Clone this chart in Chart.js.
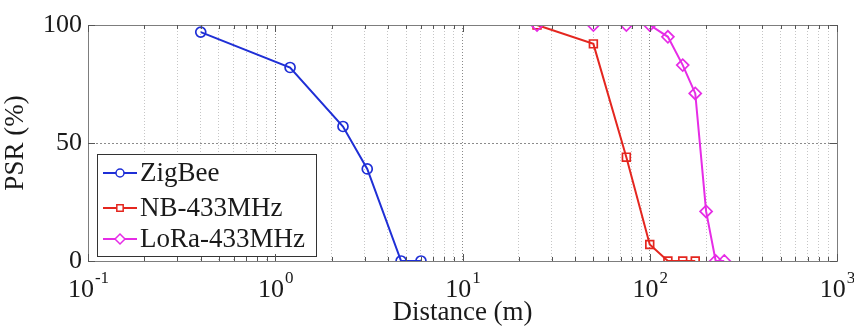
<!DOCTYPE html>
<html>
<head>
<meta charset="utf-8">
<script src="https://cdn.jsdelivr.net/npm/chart.js@4.4.0/dist/chart.umd.min.js"></script>
<style>
html, body { margin: 0; padding: 0; background: #fff; }
#wrap { width: 854px; height: 329px; position: relative; }
</style>
</head>
<body>
<div id="wrap"><canvas id="psr"></canvas></div>
<script>
const seriesNames = ['ZigBee', 'NB-433MHz', 'LoRa-433MHz'];
const zigbeeDist = [0.4, 1.2, 2.3, 3.1, 4.7, 6];
const zigbeePsr = [97, 82, 57, 39, 0, 0];
const nbDist = [25, 50, 75, 100, 125, 150, 175];
const nbPsr = [100, 92, 44, 7, 0, 0, 0];
const loraDist = [25, 50, 75, 100, 125, 150, 175, 200, 225, 250];
const loraPsr = [100, 100, 100, 100, 95, 83, 71, 21, 0, 0];

const decadeExps = [-1, 0, 1, 2, 3];
const minorSteps = [1, 2, 3, 4, 5, 6, 7, 8, 9];
const yTicks = [0, 50, 100];

const blue = '#1f2fd6';
const red = '#e4261f';
const magenta = '#e62ce6';
const serif = "'Liberation Serif', 'Times New Roman', serif";

// all log grid positions 0.1 .. 1000
const xTickValues = [];
decadeExps.forEach(e => {
    minorSteps.forEach(m => {
        const v = m * Math.pow(10, e);
        if (v <= 1000.0001) xTickValues.push(v);
    });
});

function isDecade(v) {
    return Math.abs(Math.log10(v) - Math.round(Math.log10(v))) < 1e-6;
}

function pts(xs, ys) {
    return xs.map((x, i) => ({x: x, y: ys[i]}));
}

function makeSet(label, xs, ys, color, style, radius, order) {
    return {
        label: label,
        data: pts(xs, ys),
        borderColor: color,
        backgroundColor: color,
        borderWidth: 2,
        pointStyle: style,
        pointRadius: radius,
        pointBorderWidth: 1.7,
        pointBorderColor: color,
        pointBackgroundColor: 'rgba(255,255,255,0)',
        tension: 0,
        order: order
    };
}

// horizontal dotted grid (y)
const yGrid = {
    id: 'yGrid',
    beforeDatasetsDraw(chart) {
        const ctx = chart.ctx, ca = chart.chartArea, ys = chart.scales.y;
        ctx.save();
        ctx.strokeStyle = '#8c8c8c';
        ctx.lineWidth = 1;
        ctx.setLineDash([2, 2]);
        yTicks.forEach(v => {
            const py = Math.round(ys.getPixelForValue(v)) + 0.5;
            ctx.beginPath();
            ctx.moveTo(ca.left, py);
            ctx.lineTo(ca.right, py);
            ctx.stroke();
        });
        ctx.restore();
    }
};

// box, inward ticks, 10^n labels and the legend
const axesExtras = {
    id: 'axesExtras',
    afterDatasetsDraw(chart) {
        const ctx = chart.ctx;
        const ca = chart.chartArea;
        const xs = chart.scales.x, ys = chart.scales.y;
        ctx.save();

        // legend
        const lx = ca.left + 9, ly = ca.bottom - 107, lw = 219, lh = 102;
        ctx.fillStyle = '#fff';
        ctx.fillRect(lx, ly, lw, lh);
        ctx.strokeStyle = '#333';
        ctx.lineWidth = 1;
        ctx.strokeRect(lx + 0.5, ly + 0.5, lw, lh);
        const rowY = [ly + 19, ly + 54, ly + 85];
        chart.data.datasets.forEach((ds, i) => {
            const y = rowY[i];
            ctx.strokeStyle = ds.borderColor;
            ctx.lineWidth = 2;
            ctx.beginPath();
            ctx.moveTo(lx + 6, y);
            ctx.lineTo(lx + 40, y);
            ctx.stroke();
            ctx.fillStyle = '#fff';
            ctx.lineWidth = 1.5;
            Chart.helpers.drawPoint(ctx, {
                pointStyle: ds.pointStyle, radius: ds.pointRadius - 1, rotation: 0,
                borderWidth: 1.5
            }, lx + 23, y);
            ctx.fillStyle = '#1a1a1a';
            ctx.font = '27px ' + serif;
            ctx.textBaseline = 'middle';
            ctx.textAlign = 'left';
            ctx.fillText(ds.label, lx + 43, y + 1);
        });

        // frame
        ctx.strokeStyle = '#7d7d7d';
        ctx.lineWidth = 1;
        ctx.strokeRect(Math.round(ca.left) + 0.5, Math.round(ca.top) + 0.5,
            Math.round(ca.right - ca.left), Math.round(ca.bottom - ca.top));

        // inward ticks
        ctx.strokeStyle = '#555';
        ctx.beginPath();
        xTickValues.forEach(v => {
            const px = Math.round(xs.getPixelForValue(v)) + 0.5;
            const len = isDecade(v) ? 7 : 4;
            ctx.moveTo(px, ca.bottom); ctx.lineTo(px, ca.bottom - len);
            ctx.moveTo(px, ca.top); ctx.lineTo(px, ca.top + len);
        });
        yTicks.forEach(v => {
            const py = Math.round(ys.getPixelForValue(v)) + 0.5;
            ctx.moveTo(ca.left, py); ctx.lineTo(ca.left + 7, py);
            ctx.moveTo(ca.right, py); ctx.lineTo(ca.right - 7, py);
        });
        ctx.stroke();

        // 10^n labels
        ctx.fillStyle = '#1a1a1a';
        ctx.textBaseline = 'alphabetic';
        ctx.textAlign = 'left';
        decadeExps.forEach(e => {
            const px = xs.getPixelForValue(Math.pow(10, e));
            const expText = e < 0 ? '-' + Math.abs(e) : String(e);
            ctx.font = '26px ' + serif;
            const bw = ctx.measureText('10').width;
            ctx.font = '17px ' + serif;
            const ew = ctx.measureText(expText).width;
            const x0 = px - (bw + ew) / 2;
            ctx.font = '26px ' + serif;
            ctx.fillText('10', x0, 297);
            ctx.font = '17px ' + serif;
            ctx.fillText(expText, x0 + bw + 1, 283);
        });
        ctx.restore();
    }
};

const ctx = document.getElementById('psr').getContext('2d');
const chart = new Chart(ctx, {
    type: 'line',
    data: {
        datasets: [
            makeSet(seriesNames[0], zigbeeDist, zigbeePsr, blue, 'circle', 5, 2),
            makeSet(seriesNames[1], nbDist, nbPsr, red, 'rect', 5.5, 1),
            makeSet(seriesNames[2], loraDist, loraPsr, magenta, 'rectRot', 6, 0)
        ]
    },
    options: {
        responsive: true,
        maintainAspectRatio: false,
        animation: false,
        layout: { padding: { top: 25, right: 17, left: 0, bottom: 0 } },
        plugins: {
            legend: { display: false },
            tooltip: { enabled: false }
        },
        scales: {
            x: {
                type: 'logarithmic',
                min: 0.1,
                max: 1000,
                afterBuildTicks: s => { s.ticks = xTickValues.map(v => ({value: v})); },
                afterFit: s => { s.height = 68; },
                ticks: { display: false },
                grid: {
                    color: c => (c.tick && isDecade(c.tick.value)) ? '#8a8a8a' : '#c6c6c6',
                    lineWidth: 1,
                    drawTicks: false
                },
                border: { display: false, dash: [1, 2] },
                title: {
                    display: true,
                    text: 'Distance (m)',
                    color: '#1a1a1a',
                    font: { family: serif, size: 27 },
                    padding: { top: 0, bottom: 0 }
                }
            },
            y: {
                min: 0,
                max: 100,
                afterBuildTicks: s => { s.ticks = yTicks.map(v => ({value: v})); },
                afterFit: s => { s.width = 88; },
                ticks: {
                    color: '#1a1a1a',
                    font: { family: serif, size: 26 },
                    padding: 6
                },
                grid: { display: false, drawTicks: false },
                border: { display: false },
                title: {
                    display: true,
                    text: 'PSR (%)',
                    color: '#1a1a1a',
                    font: { family: serif, size: 27 },
                    padding: { top: 0, bottom: 0 }
                }
            }
        }
    },
    plugins: [yGrid, axesExtras]
});
</script>
</body>
</html>
